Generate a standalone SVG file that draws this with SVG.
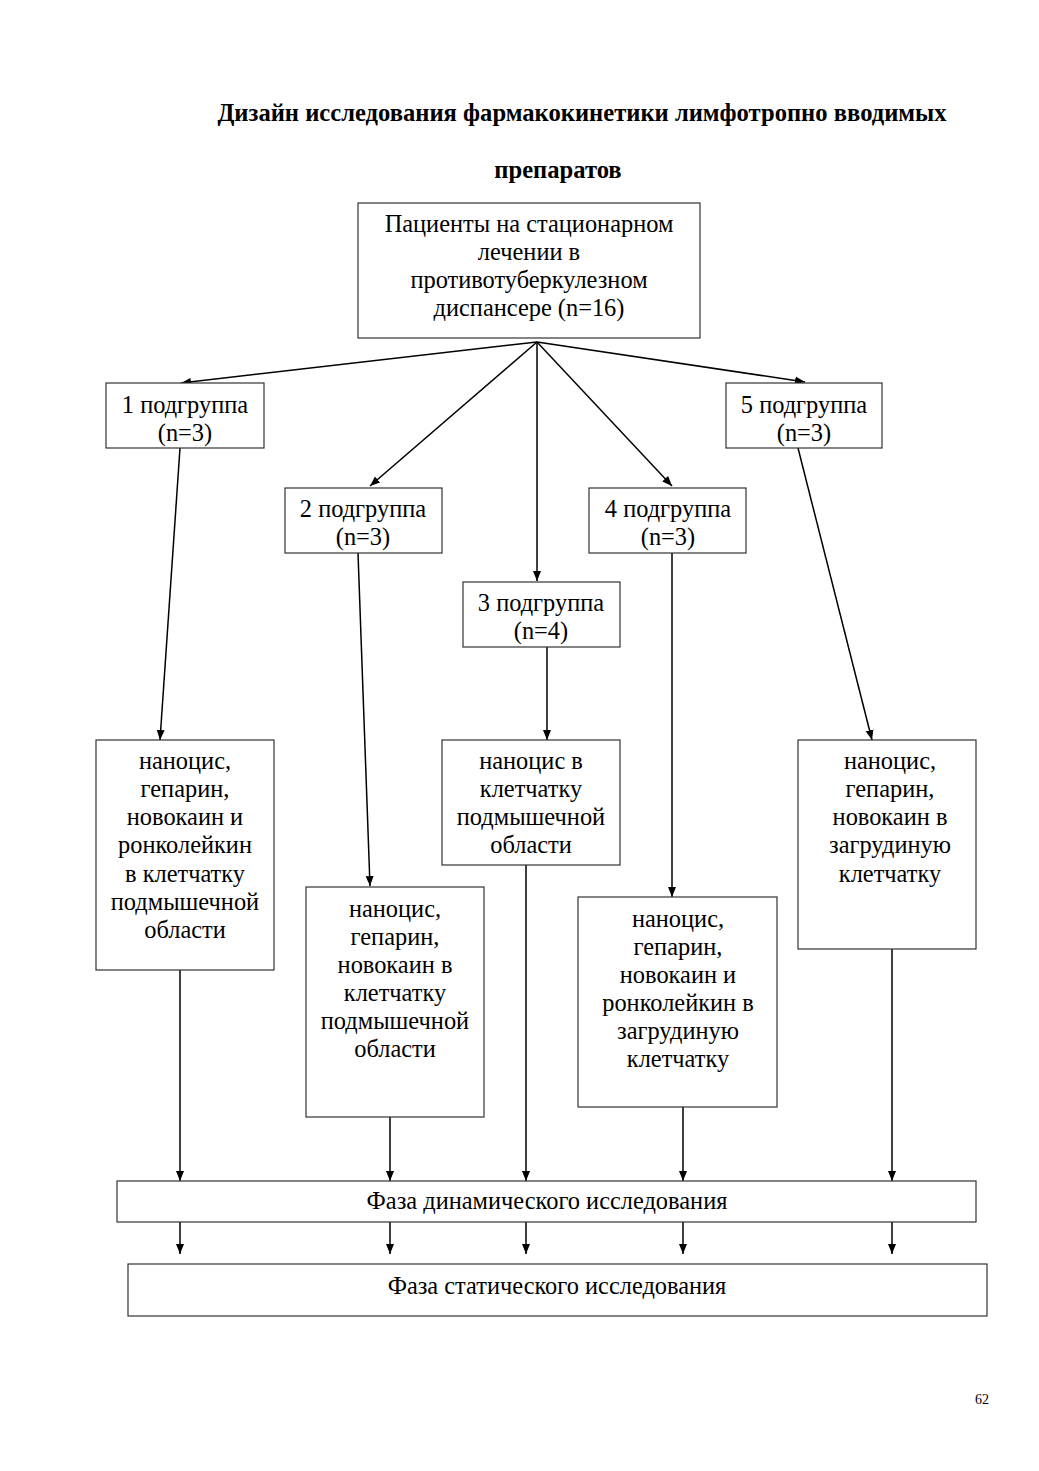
<svg xmlns="http://www.w3.org/2000/svg" width="1039" height="1471" viewBox="0 0 1039 1471">
<style>
text{font-family:"Liberation Serif","Times New Roman",serif;fill:#000;text-anchor:middle}
.t{font-size:24.6px;font-weight:bold}
.n{font-size:24.4px}
.box{fill:#fff;stroke:#333;stroke-width:1.2}
.c{stroke:#000;stroke-width:1.5;fill:none;marker-end:url(#ah)}
</style>
<defs>
<marker id="ah" viewBox="0 0 10 10" refX="10" refY="5" markerWidth="10" markerHeight="10" markerUnits="userSpaceOnUse" orient="auto">
<path d="M0,1 L10,5 L0,9 Z" fill="#000"/>
</marker>
</defs>
<rect width="1039" height="1471" fill="#fff"/>
<g id="title">
<text class="t" x="582" y="121">Дизайн исследования фармакокинетики лимфотропно вводимых</text>
<text class="t" x="558" y="178">препаратов</text>
</g>
<g id="connectors">
<line class="c" x1="537" y1="342" x2="181" y2="383"/>
<line class="c" x1="537" y1="342" x2="805" y2="382"/>
<line class="c" x1="537" y1="342" x2="370" y2="486"/>
<line class="c" x1="537" y1="342" x2="672" y2="486"/>
<line class="c" x1="537" y1="342" x2="537" y2="581"/>
<line class="c" x1="180" y1="448" x2="160" y2="740"/>
<line class="c" x1="358" y1="553" x2="370" y2="886"/>
<line class="c" x1="547" y1="647" x2="547" y2="740"/>
<line class="c" x1="672" y1="553" x2="672" y2="897"/>
<line class="c" x1="798" y1="448" x2="872" y2="740"/>
<line class="c" x1="180" y1="970" x2="180" y2="1181"/>
<line class="c" x1="390" y1="1117" x2="390" y2="1181"/>
<line class="c" x1="526" y1="865" x2="526" y2="1181"/>
<line class="c" x1="683" y1="1107" x2="683" y2="1181"/>
<line class="c" x1="892" y1="949" x2="892" y2="1181"/>
<line class="c" x1="180" y1="1222" x2="180" y2="1254"/>
<line class="c" x1="390" y1="1222" x2="390" y2="1254"/>
<line class="c" x1="526" y1="1222" x2="526" y2="1254"/>
<line class="c" x1="683" y1="1222" x2="683" y2="1254"/>
<line class="c" x1="892" y1="1222" x2="892" y2="1254"/>
</g>
<g id="patients">
<rect class="box" x="358" y="203" width="342" height="135"/>
<text class="n" x="529" y="232">Пациенты на стационарном</text>
<text class="n" x="529" y="260">лечении в</text>
<text class="n" x="529" y="288">противотуберкулезном</text>
<text class="n" x="529" y="316">диспансере (n=16)</text>
</g>
<g id="sub1">
<rect class="box" x="106" y="383" width="158" height="65"/>
<text class="n" x="185" y="413">1 подгруппа</text>
<text class="n" x="185" y="441">(n=3)</text>
</g>
<g id="sub2">
<rect class="box" x="285" y="488" width="157" height="65"/>
<text class="n" x="363" y="517">2 подгруппа</text>
<text class="n" x="363" y="545">(n=3)</text>
</g>
<g id="sub3">
<rect class="box" x="463" y="582" width="157" height="65"/>
<text class="n" x="541" y="611">3 подгруппа</text>
<text class="n" x="541" y="639">(n=4)</text>
</g>
<g id="sub4">
<rect class="box" x="589" y="488" width="157" height="65"/>
<text class="n" x="668" y="517">4 подгруппа</text>
<text class="n" x="668" y="545">(n=3)</text>
</g>
<g id="sub5">
<rect class="box" x="726" y="383" width="156" height="65"/>
<text class="n" x="804" y="413">5 подгруппа</text>
<text class="n" x="804" y="441">(n=3)</text>
</g>
<g id="drug1">
<rect class="box" x="96" y="740" width="178" height="230"/>
<text class="n" x="185" y="769">наноцис,</text>
<text class="n" x="185" y="797">гепарин,</text>
<text class="n" x="185" y="825">новокаин и</text>
<text class="n" x="185" y="853">ронколейкин</text>
<text class="n" x="185" y="882">в клетчатку</text>
<text class="n" x="185" y="910">подмышечной</text>
<text class="n" x="185" y="938">области</text>
</g>
<g id="drug2">
<rect class="box" x="306" y="887" width="178" height="230"/>
<text class="n" x="395" y="917">наноцис,</text>
<text class="n" x="395" y="945">гепарин,</text>
<text class="n" x="395" y="973">новокаин в</text>
<text class="n" x="395" y="1001">клетчатку</text>
<text class="n" x="395" y="1029">подмышечной</text>
<text class="n" x="395" y="1057">области</text>
</g>
<g id="drug3">
<rect class="box" x="442" y="740" width="178" height="125"/>
<text class="n" x="531" y="769">наноцис в</text>
<text class="n" x="531" y="797">клетчатку</text>
<text class="n" x="531" y="825">подмышечной</text>
<text class="n" x="531" y="853">области</text>
</g>
<g id="drug4">
<rect class="box" x="578" y="897" width="199" height="210"/>
<text class="n" x="678" y="927">наноцис,</text>
<text class="n" x="678" y="955">гепарин,</text>
<text class="n" x="678" y="983">новокаин и</text>
<text class="n" x="678" y="1011">ронколейкин в</text>
<text class="n" x="678" y="1039">загрудиную</text>
<text class="n" x="678" y="1067">клетчатку</text>
</g>
<g id="drug5">
<rect class="box" x="798" y="740" width="178" height="209"/>
<text class="n" x="890" y="769">наноцис,</text>
<text class="n" x="890" y="797">гепарин,</text>
<text class="n" x="890" y="825">новокаин в</text>
<text class="n" x="890" y="853">загрудиную</text>
<text class="n" x="890" y="882">клетчатку</text>
</g>
<g id="dynamic">
<rect class="box" x="117" y="1181" width="859" height="41"/>
<text class="n" x="547" y="1209">Фаза динамического исследования</text>
</g>
<g id="static">
<rect class="box" x="128" y="1264" width="859" height="52"/>
<text class="n" x="557" y="1294">Фаза статического исследования</text>
</g>
<text x="982" y="1404" style="font-size:14px">62</text>
</svg>
